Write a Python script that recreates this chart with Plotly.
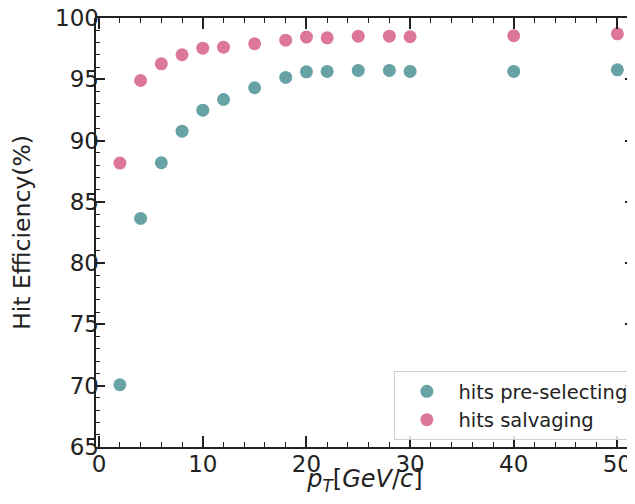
import plotly.graph_objects as go

pt = [2, 4, 6, 8, 10, 12, 15, 18, 20, 22, 25, 28, 30, 40, 50]
eff_preselect = [70.08, 83.65, 88.19, 90.77, 92.48, 93.35, 94.31, 95.15, 95.61, 95.64,
                 95.72, 95.72, 95.64, 95.64, 95.77]
eff_salvage = [88.16, 94.90, 96.26, 97.00, 97.54, 97.62, 97.90, 98.19, 98.44, 98.38,
               98.52, 98.52, 98.47, 98.55, 98.71]

names = ["hits pre-selecting", "hits salvaging"]
colors = ["#5F9EA0", "#DB7093"]

FONT = "DejaVu Sans"
AX = "#222222"

fig = go.Figure()
for name, ys, c in zip(names, [eff_preselect, eff_salvage], colors):
    fig.add_trace(go.Scatter(x=pt, y=ys, mode="markers", name=name,
                             marker=dict(color=c, size=13, opacity=0.95, line=dict(width=0))))

# the page body has an 8px default margin, so the figure is 8px smaller than the window
fig.update_layout(
    width=627, height=488,
    margin=dict(l=87, r=0, t=10, b=49),
    paper_bgcolor="white", plot_bgcolor="white",
    font=dict(family=FONT, color=AX),
    showlegend=True,
    legend=dict(x=0.997, y=0.016, xanchor="right", yanchor="bottom",
                bgcolor="rgba(255,255,255,0.8)", bordercolor="#d0d0d0", borderwidth=1,
                font=dict(size=19.5, family=FONT, color=AX), itemwidth=53,
                tracegroupgap=0),
    xaxis=dict(range=[-0.4, 51.7], tickvals=[0, 10, 20, 30, 40, 50],
               ticks="inside", ticklen=11, tickwidth=1.6, tickcolor=AX,
               showline=True, linecolor=AX, linewidth=2, mirror="ticks",
               showgrid=False, zeroline=False, ticklabeloverflow="allow",
               ticklabelstandoff=-5, automargin=False,
               tickfont=dict(size=23, family=FONT, color=AX),
               minor=dict(dtick=2, tick0=0, ticks="inside", ticklen=5, tickwidth=1.4, tickcolor=AX,
                          showgrid=False),
               title=dict(text="<i>p</i><sub><i>T</i></sub>[<i>GeV</i>/<i>c</i>]",
                          font=dict(size=24, family=FONT, color=AX), standoff=11)),
    yaxis=dict(range=[65, 100], tickvals=[65, 70, 75, 80, 85, 90, 95, 100],
               ticks="inside", ticklen=10, tickwidth=1.6, tickcolor=AX,
               showline=False, mirror="ticks",
               showgrid=False, zeroline=False, ticklabeloverflow="allow",
               ticklabelstandoff=-5, automargin=False,
               tickfont=dict(size=23, family=FONT, color=AX),
               minor=dict(dtick=1, tick0=65, ticks="inside", ticklen=5, tickwidth=1.4, tickcolor=AX,
                          showgrid=False),
               title=dict(text="Hit Efficiency(%)", font=dict(size=23.5, family=FONT, color=AX),
                          standoff=21)),
)
# left spine only (right spine lies outside the cropped picture)
fig.add_shape(type="line", xref="paper", yref="paper", x0=0, x1=0, y0=0, y1=1,
              line=dict(color=AX, width=2))

fig.write_html("out.html")
